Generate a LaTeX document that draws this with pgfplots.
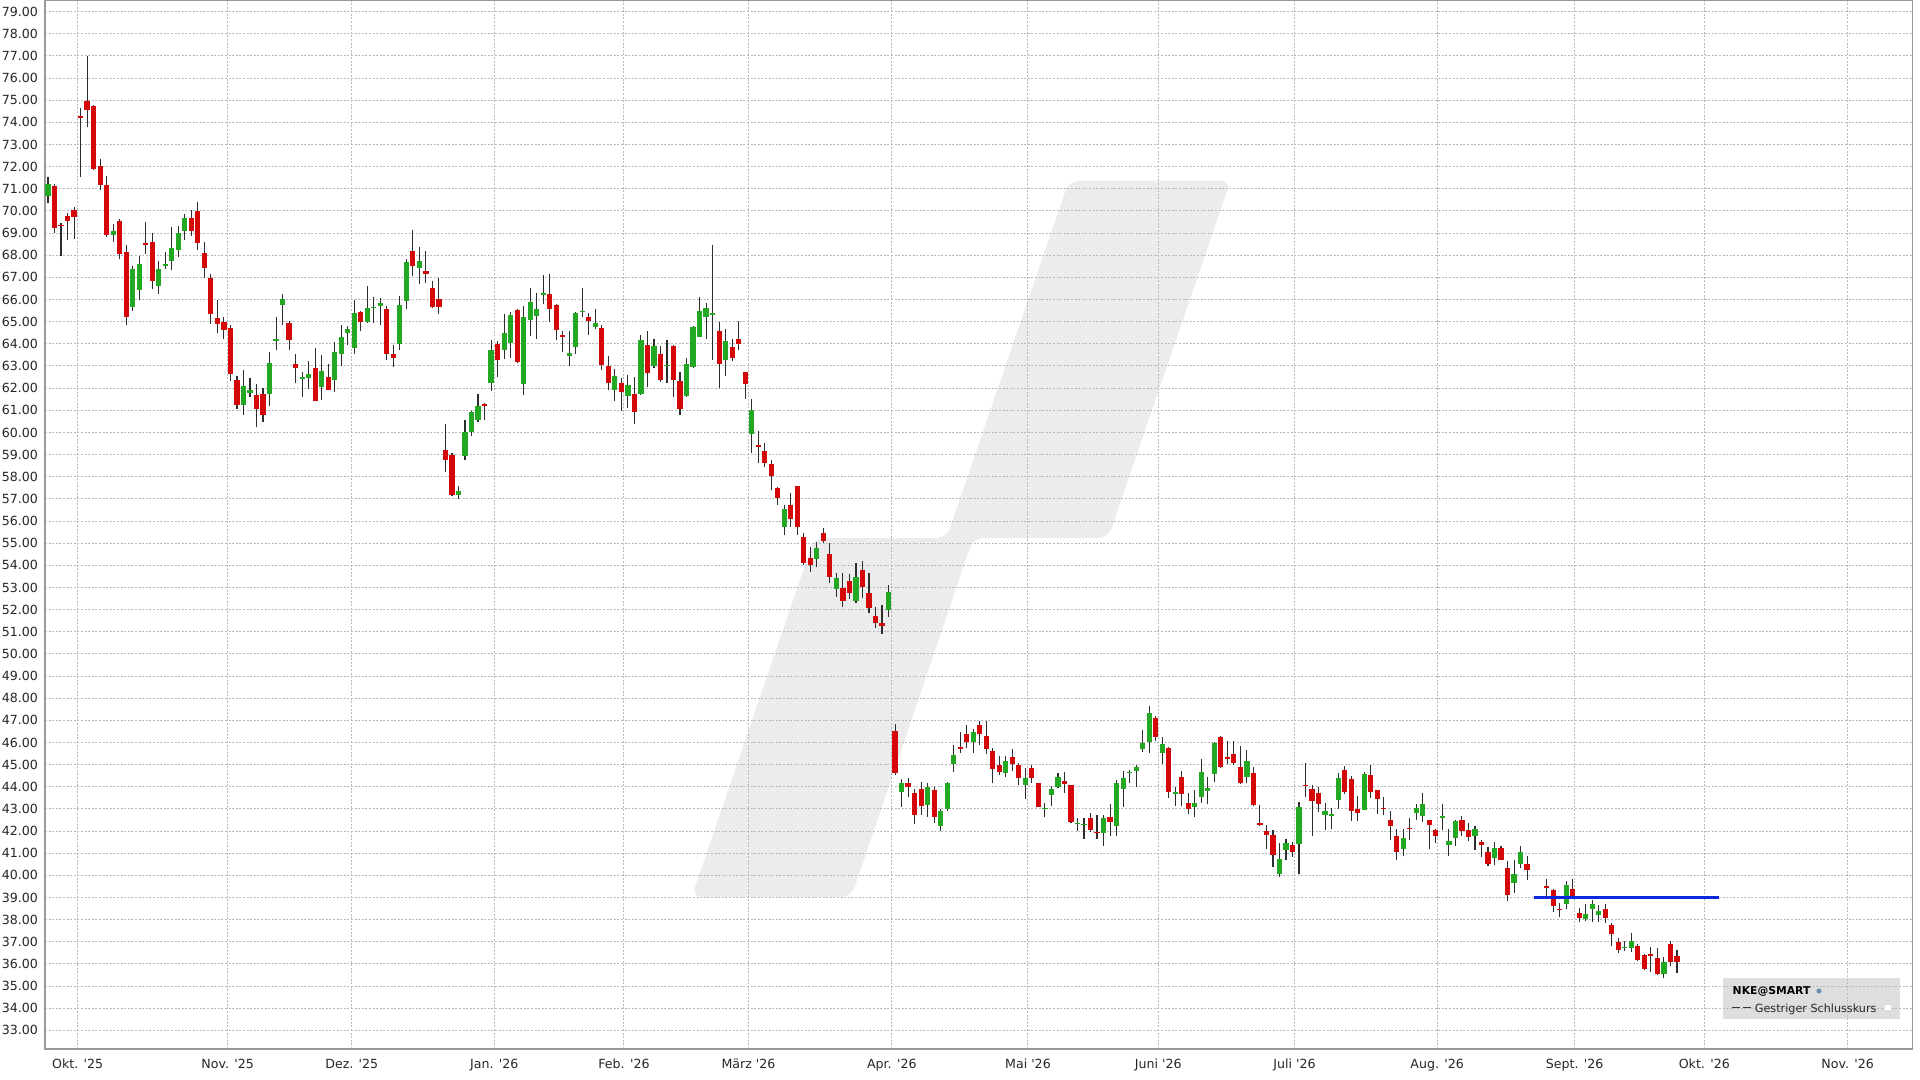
\documentclass[border=0pt]{standalone}
\usepackage{fontspec}
\setmainfont{DejaVu Sans}
\usepackage{pgfplots}
\usepackage{pgfplotstable}
\pgfplotsset{compat=1.18}

\definecolor{upgreen}{RGB}{34,168,34}
\definecolor{downred}{RGB}{212,8,8}
\definecolor{wick}{RGB}{45,45,45}
\definecolor{gridgray}{RGB}{185,185,185}
\definecolor{wmgray}{RGB}{236,236,236}
\definecolor{boxgray}{RGB}{222,222,222}
\definecolor{lineblue}{RGB}{10,40,220}

% NKE daily candles: k = trading day slot, open high low close
\pgfplotstableread{
k o h l c
0 70.66 71.53 70.36 71.20
1 71.13 71.20 69.00 69.23
2 69.38 69.45 67.95 69.32
3 69.77 69.92 68.70 69.53
4 70.06 70.20 68.75 69.73
5 74.27 74.65 71.53 74.22
6 74.97 76.98 73.79 74.58
7 74.76 74.80 71.83 71.91
8 72.02 72.36 70.96 71.16
9 71.19 71.56 68.82 68.90
10 68.93 69.42 68.60 69.08
11 69.53 69.62 67.81 68.07
12 68.14 68.45 64.83 65.21
13 65.66 67.51 65.48 67.36
14 66.44 67.95 65.99 67.59
15 68.57 69.50 68.07 68.48
16 68.60 69.02 66.49 66.86
17 66.59 67.74 66.26 67.36
18 67.51 68.14 67.39 67.60
19 67.74 69.27 67.32 68.34
20 68.22 69.32 67.92 69.02
21 69.09 69.85 68.70 69.68
22 69.68 70.06 68.85 69.09
23 70.00 70.40 68.22 68.57
24 68.11 68.60 66.98 67.42
25 66.97 67.17 64.91 65.33
26 65.16 65.99 64.49 64.91
27 64.98 65.21 64.20 64.61
28 64.73 64.83 62.32 62.65
29 62.35 62.57 61.07 61.22
30 61.26 62.80 60.77 62.08
31 61.80 62.47 61.60 61.90
32 61.71 62.20 60.24 61.07
33 61.74 62.00 60.45 60.80
34 61.74 63.61 61.20 63.13
35 64.15 65.19 63.70 64.21
36 65.74 66.26 64.86 66.02
37 64.96 65.05 63.73 64.18
38 63.08 63.53 62.23 62.90
39 62.42 62.72 61.62 62.50
40 62.45 63.23 61.95 62.65
41 62.93 63.80 61.40 61.43
42 62.03 63.50 61.47 62.78
43 62.50 63.08 61.90 61.92
44 62.38 64.10 61.82 63.65
45 63.55 64.83 62.98 64.30
46 64.48 64.81 63.95 64.66
47 63.80 65.98 63.55 65.38
48 65.43 65.49 64.59 64.98
49 65.00 66.63 64.96 65.61
50 65.60 66.10 64.96 65.67
51 65.71 66.06 64.86 65.86
52 65.56 65.71 63.28 63.55
53 63.53 63.95 62.95 63.35
54 64.00 66.14 63.73 65.76
55 65.95 67.82 65.56 67.71
56 68.17 69.14 67.07 67.52
57 67.41 68.36 66.69 67.76
58 67.29 68.17 66.74 67.14
59 66.54 66.84 65.60 65.68
60 66.02 66.99 65.35 65.65
61 59.22 60.39 58.21 58.74
62 58.96 59.07 57.11 57.19
63 57.19 57.59 56.99 57.37
64 58.92 60.57 58.77 60.02
65 60.02 60.99 59.82 60.92
66 60.55 61.75 60.45 61.20
67 61.30 61.33 60.58 61.18
68 62.25 64.19 61.86 63.71
69 63.98 64.11 62.50 63.29
70 63.74 65.36 63.33 64.51
71 64.05 65.44 63.38 65.32
72 65.52 65.59 63.14 63.18
73 62.20 65.70 61.67 65.21
74 65.09 66.54 64.36 65.89
75 65.24 66.31 64.20 65.59
76 66.22 67.10 65.82 66.30
77 66.27 67.14 64.99 65.59
78 65.74 65.82 64.16 64.61
79 64.39 64.58 63.63 64.31
80 63.47 64.58 62.98 63.60
81 63.86 65.44 63.56 65.41
82 65.43 66.54 65.21 65.50
83 65.21 65.39 64.42 65.02
84 64.76 65.59 64.69 64.96
85 64.73 64.84 62.83 63.03
86 62.98 63.44 61.90 62.25
87 61.90 62.88 61.42 62.55
88 62.23 62.47 60.97 61.83
89 61.64 62.58 61.12 62.16
90 61.72 62.50 60.39 60.92
91 61.72 64.39 61.70 64.19
92 63.96 64.58 62.05 62.68
93 63.00 64.23 62.92 63.89
94 63.56 63.89 62.28 62.38
95 62.98 64.19 62.25 63.03
96 63.89 63.93 61.60 62.35
97 62.32 62.73 60.77 61.07
98 61.63 63.36 61.60 63.11
99 62.95 64.79 62.92 64.76
100 64.31 66.12 64.30 65.50
101 65.20 65.84 64.21 65.61
102 65.31 68.47 63.28 65.39
103 64.60 65.00 62.00 63.10
104 63.28 64.68 62.57 64.11
105 63.88 64.21 63.23 63.38
106 64.21 65.05 63.73 63.98
107 62.72 62.75 61.50 62.19
108 59.93 61.50 59.09 61.02
109 59.44 60.08 58.61 59.36
110 59.17 59.51 58.46 58.64
111 58.56 58.76 57.40 58.04
112 57.48 57.55 56.73 57.03
113 55.75 56.73 55.37 56.53
114 56.73 57.25 55.75 56.08
115 57.60 57.60 55.37 55.72
116 55.30 55.45 54.02 54.12
117 54.32 54.84 53.71 54.02
118 54.27 55.04 53.94 54.80
119 55.45 55.67 54.99 55.10
120 54.51 54.99 53.22 53.49
121 52.92 53.64 52.58 53.44
122 52.96 53.64 52.13 52.39
123 53.29 53.61 52.48 52.73
124 52.39 54.09 52.28 53.49
125 53.79 54.21 52.51 53.00
126 52.77 53.64 51.83 52.06
127 51.71 52.10 51.15 51.41
128 51.41 52.21 50.90 51.26
129 51.98 53.11 51.65 52.81
130 46.54 46.84 44.53 44.60
131 43.75 44.33 43.10 44.18
132 44.18 44.38 43.52 44.00
133 43.70 43.88 42.34 42.72
134 43.90 44.21 42.72 43.14
135 43.17 44.18 42.65 43.97
136 43.85 43.97 42.37 42.62
137 42.22 42.98 42.01 42.92
138 42.98 44.23 42.92 44.18
139 45.03 45.89 44.68 45.44
140 45.81 46.49 45.51 45.71
141 46.37 46.79 45.77 46.04
142 46.01 46.60 45.51 46.49
143 46.79 46.99 45.89 46.39
144 46.30 46.99 45.48 45.69
145 45.62 45.74 44.18 44.79
146 44.98 45.39 44.53 44.68
147 44.64 45.39 44.43 45.18
148 45.36 45.69 44.73 45.03
149 44.98 45.06 44.08 44.38
150 44.08 44.83 43.43 44.38
151 44.83 44.98 44.15 44.38
152 44.18 44.18 43.07 43.10
153 43.00 43.28 42.62 43.05
154 43.63 44.03 43.14 43.88
155 44.00 44.60 43.93 44.43
156 44.27 44.68 43.73 44.12
157 44.08 44.10 42.35 42.40
158 42.32 42.57 42.01 42.37
159 42.27 42.57 41.66 42.30
160 42.57 42.80 41.97 42.04
161 41.97 42.72 41.66 41.90
162 41.90 42.72 41.32 42.57
163 42.62 43.20 41.79 42.42
164 42.22 44.30 41.77 44.18
165 43.90 44.73 43.10 44.38
166 44.62 44.75 44.18 44.68
167 44.73 44.98 44.00 44.91
168 45.69 46.57 45.59 45.99
169 46.04 47.65 45.51 47.35
170 47.10 47.20 46.08 46.27
171 45.54 46.27 45.03 45.92
172 45.77 45.78 43.48 43.78
173 43.68 43.97 43.13 43.78
174 44.43 44.71 43.13 43.67
175 43.28 43.70 42.77 42.98
176 43.07 43.85 42.62 43.25
177 43.52 45.24 43.28 44.68
178 43.82 44.43 43.22 43.93
179 44.58 46.04 44.20 45.96
180 46.27 46.30 44.83 44.91
181 45.33 46.08 45.03 45.24
182 45.48 46.08 44.98 45.09
183 44.91 45.84 44.12 44.18
184 44.43 45.66 44.18 45.18
185 44.60 44.88 43.13 43.17
186 42.37 43.17 42.22 42.28
187 42.01 42.27 41.21 41.82
188 41.82 42.06 40.38 40.91
189 40.05 41.44 39.93 40.76
190 41.14 41.62 40.68 41.47
191 41.39 41.51 40.84 41.06
192 41.41 43.30 40.05 43.07
193 44.10 45.06 43.55 44.03
194 43.88 44.10 41.77 43.35
195 43.73 44.00 42.85 43.22
196 42.74 43.27 42.06 42.92
197 42.70 43.04 42.09 42.77
198 43.42 44.62 43.00 44.40
199 44.77 44.92 43.69 43.75
200 44.35 44.47 42.44 42.89
201 43.00 43.60 42.44 42.82
202 42.94 44.65 42.94 44.59
203 44.52 45.00 43.49 43.77
204 43.84 43.87 42.79 43.46
205 43.04 43.54 42.74 42.98
206 42.48 42.92 41.58 42.24
207 41.79 42.09 40.68 41.04
208 41.20 42.09 40.86 41.69
209 42.14 42.59 41.58 42.09
210 42.82 43.24 42.52 43.04
211 42.67 43.72 42.39 43.22
212 42.52 42.52 41.20 42.29
213 42.03 42.09 41.46 41.76
214 42.59 43.22 42.03 42.67
215 41.36 42.09 40.89 41.54
216 41.69 42.52 41.31 42.47
217 42.52 42.67 41.79 42.02
218 42.03 42.36 41.54 41.72
219 41.76 42.21 41.13 42.11
220 41.49 41.58 40.83 41.36
221 41.05 41.27 40.44 40.51
222 40.78 41.49 40.45 41.23
223 41.23 41.34 40.68 40.71
224 40.33 40.63 38.83 39.10
225 39.65 40.71 39.20 40.08
226 40.53 41.31 40.33 41.04
227 40.51 40.86 39.80 40.23
230 39.52 39.85 39.02 39.43
231 39.35 39.40 38.35 38.62
232 38.50 38.77 38.12 38.42
233 38.69 39.74 38.50 39.55
234 39.40 39.85 39.00 39.02
235 38.32 38.53 37.90 38.09
236 38.02 38.72 37.94 38.24
237 38.50 38.87 37.90 38.72
238 38.20 38.65 37.90 38.39
239 38.47 38.72 37.85 38.09
240 37.75 37.85 36.80 37.33
241 36.97 37.15 36.50 36.65
242 36.70 37.03 36.59 36.77
243 36.74 37.40 36.55 37.03
244 36.82 36.88 36.13 36.20
245 36.40 36.47 35.72 35.75
246 36.47 36.77 35.65 36.37
247 36.25 36.70 35.50 35.53
248 35.54 36.32 35.35 36.10
249 36.92 37.03 35.92 36.10
250 36.37 36.62 35.57 36.07
}\nke

\begin{document}
\begin{tikzpicture}
\begin{axis}[
  at={(22.5pt,15.5pt)}, anchor=south west,
  scale only axis, width=933.9pt, height=524.2pt,
  set layers,
  xmin=-0.46, xmax=286.2,
  ymin=32.16, ymax=79.5,
  ytick={33,34,...,79},
  xtick={4.56,27.58,46.62,68.5,88.4,107.5,129.5,150.4,170.4,191.3,213.2,234.3,254.2,276.2},
  xticklabels={{Okt. \textquotesingle25},{Nov. \textquotesingle25},{Dez. \textquotesingle25},{Jan. \textquotesingle26},{Feb. \textquotesingle26},{März \textquotesingle26},{Apr. \textquotesingle26},{Mai \textquotesingle26},{Juni \textquotesingle26},{Juli \textquotesingle26},{Aug. \textquotesingle26},{Sept. \textquotesingle26},{Okt. \textquotesingle26},{Nov. \textquotesingle26}},
  scaled x ticks=false, scaled y ticks=false,
  major tick length=0pt,
  grid=major,
  grid style={draw=gridgray, line width=0.5pt, dash pattern=on 1pt off 0.8pt},
  axis line style={draw=gray!80, line width=0.6pt},
  tick label style={font=\fontsize{6.3}{7}\selectfont, text=black!85},
  yticklabel style={anchor=east, inner sep=0pt, xshift=-3.3pt},
  xticklabel style={anchor=north, inner sep=0pt, yshift=-4.8pt},
  /pgf/number format/.cd, fixed, fixed zerofill, precision=2, assume math mode=true,
]

% watermark and legend box, behind the grid
\addplot[on layer=axis background, fill=wmgray, draw=none, rounded corners=5pt]
  coordinates {(98.8,39.03) (123.3,39.03) (142.0,55.23) (162.7,55.23)
               (181.5,71.37) (156.7,71.37) (137.9,55.23) (117.6,55.23)} -- cycle;
\addplot[on layer=axis background, fill=boxgray, draw=none]
  coordinates {(257.1,33.51) (284.3,33.51) (284.3,35.36) (257.1,35.36)} -- cycle;

% wicks
\addplot[draw=none, mark=none,
  error bars/.cd, y dir=plus, y explicit, error mark=none,
  error bar style={draw=wick, line width=0.55pt}]
  table[x=k, y=l, y error plus expr=\thisrow{h}-\thisrow{l}] {\nke};

% rising bodies
\addplot[draw=none, mark=none,
  restrict expr to domain={\thisrow{c}-\thisrow{o}}{0:100},
  error bars/.cd, y dir=plus, y explicit, error mark=none,
  error bar style={draw=upgreen, line width=2.6pt}]
  table[x=k, y=o, y error plus expr=\thisrow{c}-\thisrow{o}] {\nke};

% falling bodies
\addplot[draw=none, mark=none,
  restrict expr to domain={\thisrow{c}-\thisrow{o}}{-100:-0.0001},
  error bars/.cd, y dir=plus, y explicit, error mark=none,
  error bar style={draw=downred, line width=2.6pt}]
  table[x=k, y=c, y error plus expr=\thisrow{o}-\thisrow{c}] {\nke};

% horizontal level
\addplot[lineblue, line width=1.5pt] coordinates {(228,39) (256.5,39)};

% legend
\node[anchor=base west, inner sep=0pt, font=\bfseries\fontsize{5.4}{6}\selectfont]
  at (axis cs:258.5,34.60) {NKE@SMART};
\fill[color={rgb,255:red,110;green,145;blue,180}] (axis cs:271.8,34.78) circle (1.3pt);
\draw[black!80, line width=0.6pt, dash pattern=on 3.8pt off 1.5pt]
  (axis cs:258.5,34.02) -- (axis cs:261.3,34.02);
\node[anchor=base west, inner sep=0pt, font=\fontsize{5.6}{6}\selectfont, text=black!85]
  at (axis cs:261.9,33.83) {Gestriger Schlusskurs};
\fill[white] (axis cs:282.4,34.03) ++(-1.3pt,-1.3pt) rectangle ++(2.6pt,2.6pt);
\end{axis}
\pgfresetboundingbox
\path (0,0) rectangle (960pt,540pt);
\end{tikzpicture}
\end{document}
